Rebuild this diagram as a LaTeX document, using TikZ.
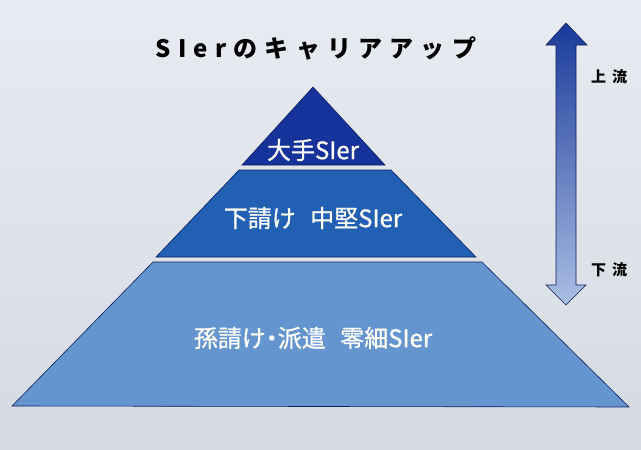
\documentclass[tikz,border=0pt]{standalone}
\usepackage{fontspec}
\setmainfont{Noto Sans CJK JP}
\newfontfamily\titlefont[LetterSpace=30]{Noto Sans CJK JP}
\newfontfamily\tierfont[FakeBold=0.8]{Noto Sans CJK JP}
\newfontfamily\flowfont[LetterSpace=40]{Noto Sans CJK JP}
\usepackage{tikz}

\definecolor{bgtop}{RGB}{232,235,241}
\definecolor{bgbot}{RGB}{213,218,226}
\definecolor{tierone}{RGB}{21,51,154}
\definecolor{tiertwo}{RGB}{33,96,178}
\definecolor{tierthree}{RGB}{100,149,207}
\definecolor{edgeblue}{RGB}{11,29,92}
\definecolor{arrowtop}{RGB}{26,58,154}
\definecolor{arrowmid}{RGB}{80,118,192}
\definecolor{arrowbot}{RGB}{170,190,228}

\begin{document}
\begin{tikzpicture}[x=1pt,y=-1pt,
	tierlabel/.style={text=white,font=\tierfont\fontsize{24}{28}\selectfont},
	flowlabel/.style={font=\flowfont\bfseries\fontsize{15}{17}\selectfont}]
	\fill[top color=bgtop,bottom color=bgbot] (0,0) rectangle (641,450);
	\node (title) at (316,48) {\titlefont\bfseries\fontsize{24}{28}\selectfont SIerのキャリアアップ};

	% pyramid
	\draw[edgeblue,line width=0.6pt,fill=tierone] (313,87) -- (385,165) -- (242,165) -- cycle;
	\draw[edgeblue,line width=0.6pt,fill=tiertwo] (239,170) -- (391,170) -- (476,257) -- (156,257) -- cycle;
	\draw[edgeblue,line width=0.6pt,fill=tierthree] (153,262) -- (482,262) -- (629,407) -- (12,406) -- cycle;
	\node[tierlabel] (oote) at (313,150) {大手SIer};
	\node[tierlabel] (chuken) at (313,218) {下請け\hspace{0.6em}中堅SIer};
	\node[tierlabel] (reisai) at (313,338) {孫請け\hspace{-0.25em}・\hspace{-0.25em}派遣\hspace{0.6em}零細SIer};

	% arrow
	\draw[edgeblue,line width=0.6pt,top color=arrowtop,middle color=arrowmid,bottom color=arrowbot]
	(566,23) -- (587,45) -- (576,45) -- (576,285) -- (586,285) -- (566,305)
	-- (546,285) -- (556,285) -- (556,45) -- (546,45) -- cycle;
	\node[flowlabel] (up) at (609,77) {上流};
	\node[flowlabel] (down) at (609,270) {下流};
\end{tikzpicture}
\end{document}
